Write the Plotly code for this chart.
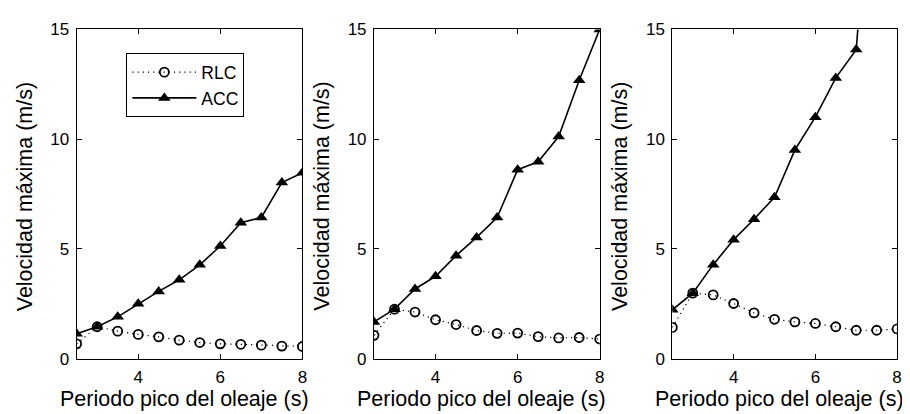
import plotly.graph_objects as go

periodo = [2.5, 3.0, 3.5, 4.0, 4.5, 5.0, 5.5, 6.0, 6.5, 7.0, 7.5, 8.0]

rlc_1 = [0.67, 1.45, 1.25, 1.10, 0.99, 0.84, 0.73, 0.67, 0.65, 0.61, 0.57, 0.55]
acc_1 = [1.13, 1.45, 1.90, 2.50, 3.06, 3.59, 4.27, 5.13, 6.19, 6.43, 8.02, 8.47]

rlc_2 = [1.06, 2.25, 2.12, 1.77, 1.55, 1.28, 1.15, 1.16, 1.00, 0.94, 0.96, 0.89]
acc_2 = [1.67, 2.25, 3.17, 3.75, 4.69, 5.52, 6.43, 8.61, 8.97, 10.12, 12.68, 15.0]

rlc_3 = [1.42, 2.98, 2.90, 2.51, 2.08, 1.79, 1.67, 1.60, 1.45, 1.29, 1.29, 1.35]
acc_3 = [2.22, 2.98, 4.28, 5.42, 6.35, 7.35, 9.51, 11.00, 12.79, 14.08, 26.0, 40.0]

x_ticks = [4, 6, 8]
y_ticks = [0, 5, 10, 15]
x_title = "Periodo pico del oleaje (s)"
y_title = "Velocidad máxima (m/s)"

W, H = 910, 414
panels_px = [(69, 296), (368, 595), (668, 894)]
top_px, bot_px = 13, 358

FONT = "Liberation Sans, Arial, sans-serif"

fig = go.Figure()
series = [(rlc_1, acc_1), (rlc_2, acc_2), (rlc_3, acc_3)]
for i, (rlc, acc) in enumerate(series):
    ax = "" if i == 0 else str(i + 1)
    fig.add_trace(go.Scatter(
        x=periodo, y=rlc, name="RLC", mode="lines+markers",
        line=dict(color="black", width=1.2, dash="1.2px,4px"),
        marker=dict(symbol="circle-open", size=9, color="black", line=dict(width=1.8)),
        xaxis="x" + ax, yaxis="y" + ax, showlegend=(i == 0), legendrank=1))
    fig.add_trace(go.Scatter(
        x=periodo, y=acc, name="ACC", mode="lines+markers",
        line=dict(color="black", width=1.6),
        marker=dict(symbol="triangle-up", size=11, color="black"),
        xaxis="x" + ax, yaxis="y" + ax, showlegend=(i == 0), legendrank=2))

ydom = [1 - bot_px / H, 1 - top_px / H]
layout = dict(
    width=W, height=H,
    margin=dict(l=0, r=0, t=0, b=0),
    paper_bgcolor="white", plot_bgcolor="white",
    font=dict(family=FONT, size=16, color="black"),
    legend=dict(x=119 / W, y=1 - 38 / H, xanchor="left", yanchor="top",
                bordercolor="black", borderwidth=1, bgcolor="white",
                font=dict(size=17.5), tracegroupgap=0, itemwidth=64),
    annotations=[],
)
for i, (l, r) in enumerate(panels_px):
    ax = "" if i == 0 else str(i + 1)
    layout["xaxis" + ax] = dict(
        domain=[l / W, r / W], range=[2.5, 8], tickvals=x_ticks,
        ticks="inside", ticklen=5, tickcolor="black", showline=True,
        linecolor="black", linewidth=1, mirror="ticks", showgrid=False,
        zeroline=False, anchor="y" + ax, tickfont=dict(size=17),
        ticklabelstandoff=3)
    layout["yaxis" + ax] = dict(
        domain=ydom, range=[0, 15], tickvals=y_ticks,
        ticks="inside", ticklen=5, tickcolor="black", showline=True,
        linecolor="black", linewidth=1, mirror="ticks", showgrid=False,
        zeroline=False, anchor="x" + ax, tickfont=dict(size=17),
        ticklabelstandoff=3)
    layout["annotations"].append(dict(
        text=x_title, xref="paper", yref="paper",
        x=((l + r) / 2 - 5) / W, y=1 - 400 / H, xanchor="center", yanchor="middle",
        showarrow=False, font=dict(size=21.5)))
    layout["annotations"].append(dict(
        text=y_title, xref="paper", yref="paper",
        x=(l - 52) / W, y=1 - 188 / H, xanchor="center", yanchor="middle",
        textangle=-90, showarrow=False, font=dict(size=21.5)))

fig.update_layout(**layout)
fig.write_html("out.html")
